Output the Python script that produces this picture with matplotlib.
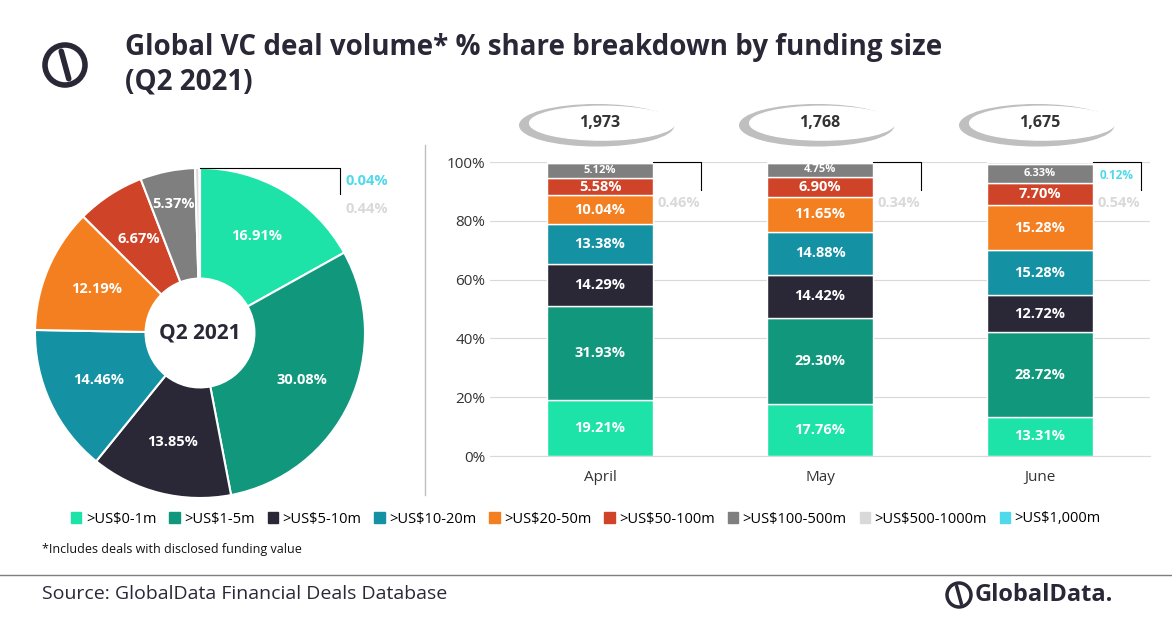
import matplotlib
matplotlib.use('Agg')
import matplotlib.pyplot as plt
from matplotlib.patches import Ellipse, Circle, Rectangle
import numpy as np

plt.rcParams['font.family'] = ['Open Sans', 'DejaVu Sans']

categories = ['>US$0-1m', '>US$1-5m', '>US$5-10m', '>US$10-20m', '>US$20-50m',
              '>US$50-100m', '>US$100-500m', '>US$500-1000m', '>US$1,000m']
colors = ['#1ee3a8', '#11977b', '#2a2737', '#1591a4', '#f47f20',
          '#cf4429', '#7f7f7f', '#d9d9d9', '#4fd9ea']

pie_values = [16.91, 30.08, 13.85, 14.46, 12.19, 6.67, 5.37, 0.44, 0.04]

months = ['April', 'May', 'June']
totals = ['1,973', '1,768', '1,675']
bar_values = {
    'April': [19.21, 31.93, 14.29, 13.38, 10.04, 5.58, 5.12, 0.46, 0.0],
    'May':   [17.76, 29.30, 14.42, 14.88, 11.65, 6.90, 4.75, 0.34, 0.0],
    'June':  [13.31, 28.72, 12.72, 15.28, 15.28, 7.70, 6.33, 0.54, 0.12],
}

W, H = 1172, 628
fig = plt.figure(figsize=(W / 100, H / 100), dpi=100)
fig.patch.set_facecolor('white')

def fx(x):
    return x / W

def fy(y):
    return 1 - y / H

# title
fig.text(fx(125), fy(48), 'Global VC deal volume* % share breakdown by funding size',
         fontsize=20, fontweight='bold', color='#2a2737', va='center')
fig.text(fx(125), fy(82), '(Q2 2021)', fontsize=20, fontweight='bold', color='#2a2737', va='center')

# icon
ia = fig.add_axes([fx(40), fy(90), fx(50), 50 / H])
ia.set_xlim(-1, 1); ia.set_ylim(-1, 1); ia.axis('off')
ia.add_patch(Circle((0, 0), 0.8, fill=False, lw=4, ec='#2a2737'))
ia.plot([-0.15, 0.15], [0.55, -0.55], color='#2a2737', lw=4, solid_capstyle='round')

# pie
cx, cy, r = 200, 333, 165
pa = fig.add_axes([fx(cx - r), fy(cy + r), fx(2 * r), 2 * r / H])
wedges, _ = pa.pie(pie_values, colors=colors, startangle=90, counterclock=False,
                   wedgeprops=dict(width=0.67, edgecolor='white', linewidth=1.5))
pa.set_xlim(-1, 1)
pa.set_ylim(-1, 1)
pa.text(0, 0, 'Q2 2021', ha='center', va='center', fontsize=15, fontweight='bold', color='#2a2737')
ang = 90
for v in pie_values:
    mid = np.deg2rad(ang - v * 3.6 / 2)
    ang -= v * 3.6
    if v < 1:
        continue
    rr = 0.8 if v < 6 else 0.68
    pa.text(rr * np.cos(mid), rr * np.sin(mid), f'{v:.2f}%', ha='center', va='center',
            color='white', fontsize=10.5, fontweight='bold')
pa.plot([0, 0.85, 0.85], [1.0, 1.0, 0.84], color='black', lw=0.8, clip_on=False)
pa.text(0.88, 0.92, '0.04%', color=colors[8], fontsize=10.5, fontweight='bold', va='center')
pa.text(0.88, 0.75, '0.44%', color=colors[7], fontsize=10.5, fontweight='bold', va='center')

# separator line
fig.add_artist(plt.Line2D([fx(425), fx(425)], [fy(145), fy(495)], color='#bfbfbf', lw=1))

# bars
ba = fig.add_axes([fx(490), fy(456), fx(660), 294 / H])
x = np.arange(len(months))
bottom = np.zeros(len(months))
for i, c in enumerate(categories):
    vals = np.array([bar_values[m][i] for m in months])
    ba.bar(x, vals, bottom=bottom, width=0.48, color=colors[i], edgecolor='white', linewidth=1)
    for j, v in enumerate(vals):
        if i <= 5:
            ba.text(x[j], bottom[j] + v / 2, f'{v:.2f}%', ha='center', va='center',
                    color='white', fontsize=10.5, fontweight='bold')
        elif i == 6:
            ba.text(x[j], bottom[j] + v / 2, f'{v:.2f}%', ha='center', va='center',
                    color='white', fontsize=8, fontweight='bold')
    bottom += vals
ba.set_xlim(-0.5, 2.5)
ba.set_ylim(0, 100)
ba.set_yticks(np.arange(0, 101, 20))
ba.set_yticklabels([f'{t}%' for t in range(0, 101, 20)])
ba.set_xticks(x)
ba.set_xticklabels(months)
ba.tick_params(axis='both', length=0, labelsize=11, colors='#333333')
ba.tick_params(axis='x', pad=10)
ba.grid(axis='y', color='#d9d9d9', lw=0.8)
ba.set_axisbelow(True)
for s in ba.spines.values():
    s.set_visible(False)
ba.spines['bottom'].set_visible(True)
ba.spines['bottom'].set_color('#d9d9d9')

for j, m in enumerate(months):
    top = sum(bar_values[m])
    ba.plot([x[j] + 0.24, x[j] + 0.46, x[j] + 0.46], [top, top, 90.5], color='black', lw=0.8, clip_on=False)
    ba.text(x[j] + 0.26, 86, f'{bar_values[m][7]:.2f}%', color=colors[7], fontsize=10.5,
            fontweight='bold', va='center')
    if bar_values[m][8] > 0:
        ba.text(x[j] + 0.27, 95.5, f'{bar_values[m][8]:.2f}%', color=colors[8], fontsize=8.5,
                fontweight='bold', va='center')
    ba.add_patch(Ellipse((x[j] - 0.015, 112.5), 0.7, 14, color='#bfbfbf', clip_on=False))
    ba.add_patch(Ellipse((x[j] + 0.01, 113.2), 0.66, 11.5, color='white', clip_on=False))
    ba.text(x[j], 113.4, totals[j], ha='center', va='center', fontsize=11.5, fontweight='bold',
            color='#333333', clip_on=False)

# legend
handles = [Rectangle((0, 0), 1, 1, color=c) for c in colors]
fig.legend(handles, categories, loc='center', bbox_to_anchor=(0.5, fy(519)), ncol=9, frameon=False,
           fontsize=10.5, handlelength=0.7, handleheight=0.7, handletextpad=0.3, columnspacing=0.9)
fig.text(fx(42), fy(549), '*Includes deals with disclosed funding value', fontsize=9, va='center', color='#111111')
fig.add_artist(plt.Line2D([0, 1], [fy(575), fy(575)], color='#7f7f7f', lw=1))
fig.text(fx(42), fy(594), 'Source: GlobalData Financial Deals Database', fontsize=14, va='center', color='#2a2737')
fig.text(fx(975), fy(595), 'GlobalData.', fontsize=17, fontweight='bold', va='center', color='#2a2737')
la = fig.add_axes([fx(944), fy(610), fx(30), 30 / H])
la.set_xlim(-1, 1); la.set_ylim(-1, 1); la.axis('off')
la.add_patch(Circle((0, 0), 0.8, fill=False, lw=2.5, ec='#2a2737'))
la.plot([-0.15, 0.15], [0.55, -0.55], color='#2a2737', lw=2.5)

fig.savefig('out.png', dpi=100, facecolor='white')
